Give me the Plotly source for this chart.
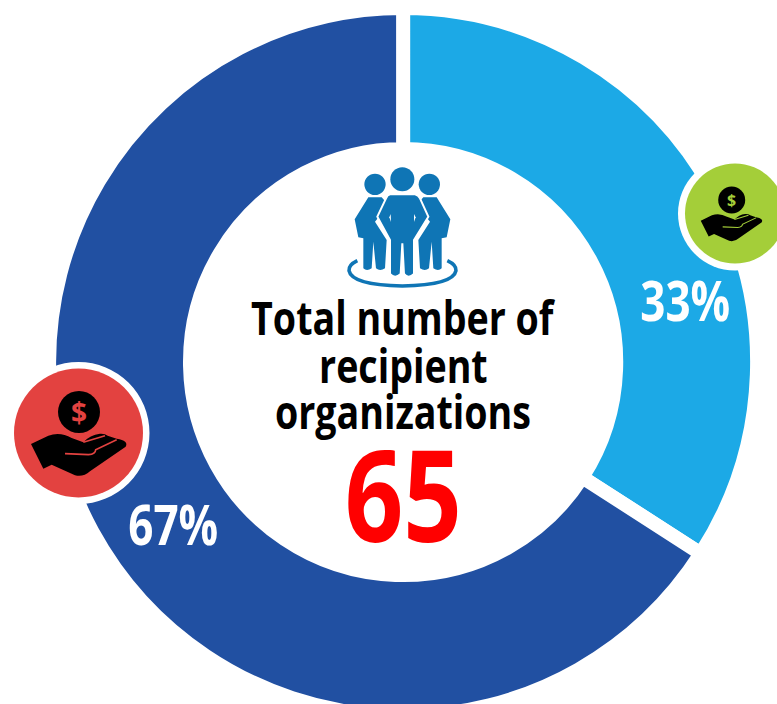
import plotly.graph_objects as go

categories = ["Recipient group A", "Recipient group B"]
shares = [34.1, 65.9]
pct_labels = ["33%", "67%"]
colors = ["#1CA9E6", "#2150A2"]
title_lines = ["Total number of", "recipient", "organizations"]
total = "65"

W, H = 777, 724
FONT = "Open Sans, sans-serif"

def px(x): return x / W
def py(y): return 1 - y / H

def P(points):
    out = []
    for cmd, *c in points:
        s = cmd
        for i in range(0, len(c), 2):
            s += f" {px(c[i]):.5f},{py(c[i+1]):.5f}"
        out.append(s)
    return " ".join(out)

shapes = []
def circle(cx, cy, r, fill):
    shapes.append(dict(type="circle", xref="paper", yref="paper", x0=px(cx-r), x1=px(cx+r),
                       y0=py(cy+r), y1=py(cy-r), fillcolor=fill, line=dict(width=0), layer="above"))
def path(points, fill=None, line=None, lw=0):
    shapes.append(dict(type="path", xref="paper", yref="paper", path=P(points),
                       fillcolor=fill if fill else "rgba(0,0,0,0)",
                       line=dict(color=line or "rgba(0,0,0,0)", width=lw), layer="above"))

HAND = [("M",78,268),("L",130,243),("Q",165,230,200,250),("L",235,263),("Q",255,240,285,237),
        ("Q",300,236,308,243),("L",335,252),("Q",372,258,362,276),("L",255,350),("Q",235,368,210,362),
        ("L",140,330),("L",115,342),("Z",)]
CREASE1 = [("M",180,297),("L",250,300),("Q",272,298,272,285),("L",335,255)]
CREASE2 = [("M",235,263),("L",300,243)]

def icon(cx, cy, R, ring, fill, ox, oy, k, coin_r, dollar_size):
    circle(cx, cy, ring, "white")
    circle(cx, cy, R, fill)
    def m(pts):
        res = []
        for cmd, *c in pts:
            n = [cmd]
            for i in range(0, len(c), 2):
                n += [ox + (c[i]-222)*k/3, oy + (c[i+1]-172)*k/3]
            res.append(tuple(n))
        return res
    path(m(HAND), fill="black")
    path(m(CREASE1), line=fill, lw=1.6*k)
    path(m(CREASE2), line=fill, lw=1.6*k)
    circle(ox, oy, coin_r, "black")
    return dict(x=px(ox), y=py(oy), xref="paper", yref="paper", text="<b>$</b>", showarrow=False,
                font=dict(family="Open Sans, sans-serif", size=dollar_size, color=fill),
                xanchor="center", yanchor="middle")

ann = []
ann.append(icon(78.5, 433, 64.5, 71, "#E34240", 79, 412, 1.0, 21, 28))
ann.append(icon(735, 213.5, 50, 57, "#A4CE39", 731.7, 200, 0.645, 13.5, 16))

BLUE = "#0F75B5"
def q(pts):
    res = []
    for cmd, *c in pts:
        n = [cmd]
        for i in range(0, len(c), 2):
            n += [340 + c[i]/3, 160 + c[i+1]/3]
        res.append(tuple(n))
    return res
circle(340+187/3, 160+58/3, 36/3, BLUE)
circle(340+105/3, 160+73/3, 32/3, BLUE)
circle(340+268/3, 160+73/3, 32/3, BLUE)
path(q([("M",85,112),("L",125,112),("L",145,135),("L",105,185),("L",140,240),("L",135,325),("Q",120,335,108,325),
        ("L",100,245),("L",95,325),("Q",80,335,70,325),("L",70,235),("L",55,232),("L",44,178),("Z",)]), fill=BLUE)
path(q([("M",290,112),("L",250,112),("L",230,135),("L",270,185),("L",235,240),("L",240,325),("Q",255,335,267,325),
        ("L",275,245),("L",280,325),("Q",295,335,305,325),("L",305,235),("L",320,232),("L",331,178),("Z",)]), fill=BLUE)
path(q([("M",150,103),("L",225,103),("Q",235,105,240,115),("L",265,170),("L",222,240),("L",222,342),("Q",205,358,192,342),
        ("L",187,250),("L",182,342),("Q",165,358,150,342),("L",150,240),("L",112,170),("L",138,115),("Q",142,105,150,103),("Z",)]),
     fill=BLUE, line="white", lw=2)
path(q([("M",152,162),("L",148,172),("L",153,186),("Z",)]), fill="white")
path(q([("M",222,162),("L",227,172),("L",222,186),("Z",)]), fill="white")
path(q([("M",52,302),("Q",25,315,27,332),("Q",35,375,187,378),("Q",340,375,348,332),("Q",350,315,322,302)]), line=BLUE, lw=3.6)

def label(text, x, y, size, color):
    ann.append(dict(x=px(x), y=py(y), xref="paper", yref="paper", text=f"<b>{text}</b>", showarrow=False,
                    font=dict(family=FONT, size=size, color=color), xanchor="center", yanchor="middle"))

for line, yy in zip(title_lines, [317, 365, 411]):
    label(line, 403, yy, 47, "black")
label(total, 403, 492, 128, "#FF0000")
label(pct_labels[0], 685, 300, 55, "white")
label(pct_labels[1], 173, 523, 55, "white")

fig = go.Figure(go.Pie(labels=categories, values=shares, sort=False, direction="clockwise", rotation=0,
                       hole=0.602, textinfo="none", hoverinfo="label+percent", showlegend=False,
                       marker=dict(colors=colors, line=dict(color="white", width=14)),
                       domain=dict(x=[0.0632, 0.9744], y=[0, 1])))
fig.update_layout(width=W, height=H, margin=dict(l=0, r=0, t=0, b=0), paper_bgcolor="white",
                  shapes=shapes, annotations=ann, showlegend=False)

squeeze = """
document.documentElement.style.overflow='hidden';
document.body.style.overflow='hidden';
document.body.style.margin='0';
document.querySelectorAll('.annotation-text').forEach(function(t){
  var fs = parseFloat(t.style.fontSize);
  if (fs < 40) return;
  var b = t.getBBox();
  var c = b.x + b.width/2;
  var prev = t.getAttribute('transform') || '';
  t.setAttribute('transform', prev + ' translate(' + c + ',0) scale(0.8,1) translate(' + (-c) + ',0)');
});
"""
fig.write_html("out.html", config={"displayModeBar": False}, post_script=squeeze)
